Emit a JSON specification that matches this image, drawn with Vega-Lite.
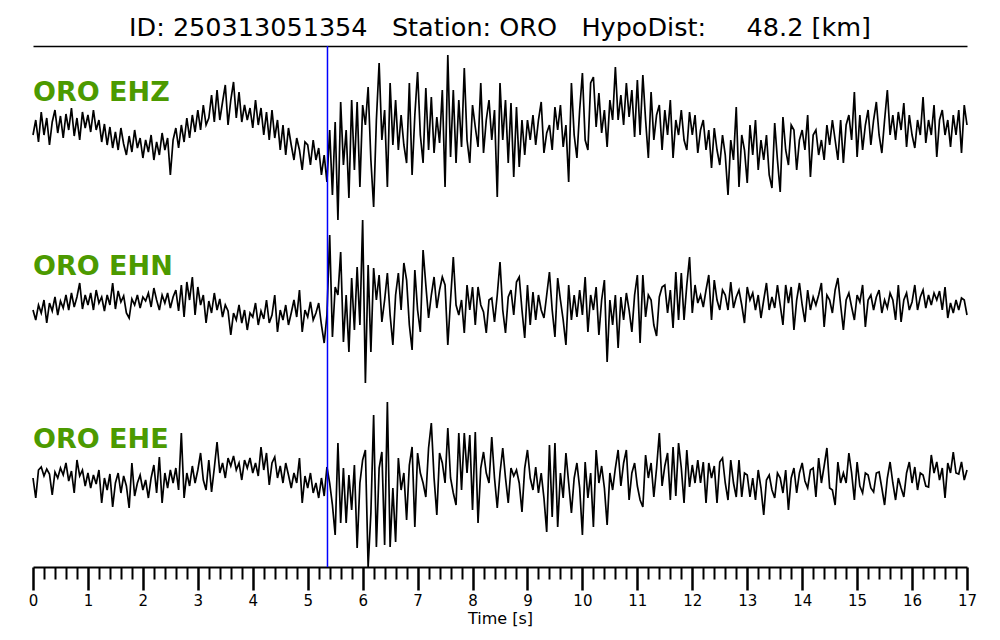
{
"$schema": "https://vega.github.io/schema/vega-lite/v6.json",
"width": 934, "height": 521,
"autosize": {"type": "none"},
"padding": {"left": 33, "top": 46, "right": 33, "bottom": 73},
"background": "white",
"config": {"view": {"stroke": null}, "axis": {"grid": false}, "font": "DejaVu Sans"},
"title": {"text": "ID: 250313051354\u00a0\u00a0\u00a0Station: ORO\u00a0\u00a0\u00a0HypoDist:\u00a0\u00a0\u00a0\u00a0\u00a048.2 [km]", "fontSize": 25.5, "font": "DejaVu Sans", "fontWeight": "normal", "color": "black", "anchor": "middle", "offset": 4},
"datasets": {"w": [
{"t":0,"z":-5,"n":-5,"e":0},{"t":0.05,"z":10,"n":-15,"e":-20},{"t":0.1,"z":-12,"n":0,"e":8},{"t":0.15,"z":18,"n":-8,"e":11},{"t":0.2,"z":-5,"n":5,"e":2},{"t":0.25,"z":12,"n":-18,"e":9},{"t":0.3,"z":-15,"n":2,"e":4},{"t":0.35,"z":8,"n":-6,"e":-17},{"t":0.4,"z":20,"n":8,"e":6},{"t":0.45,"z":-3,"n":-10,"e":0},{"t":0.5,"z":14,"n":4,"e":10},{"t":0.55,"z":-8,"n":-3,"e":3},{"t":0.6,"z":16,"n":10,"e":15},{"t":0.65,"z":0,"n":-5,"e":-3},{"t":0.7,"z":22,"n":12,"e":7},{"t":0.75,"z":-6,"n":-2,"e":-15},{"t":0.8,"z":12,"n":8,"e":18},{"t":0.85,"z":-10,"n":22,"e":2},{"t":0.9,"z":18,"n":-4,"e":8},{"t":0.95,"z":2,"n":10,"e":-8},
{"t":1,"z":15,"n":0,"e":5},{"t":1.05,"z":-2,"n":12,"e":-10},{"t":1.1,"z":20,"n":-5,"e":3},{"t":1.15,"z":0,"n":15,"e":-6},{"t":1.2,"z":10,"n":2,"e":8},{"t":1.25,"z":-12,"n":8,"e":-25},{"t":1.3,"z":6,"n":-6,"e":0},{"t":1.35,"z":-15,"n":10,"e":-12},{"t":1.4,"z":3,"n":0,"e":4},{"t":1.45,"z":-18,"n":22,"e":-29},{"t":1.5,"z":-2,"n":-4,"e":-5},{"t":1.55,"z":-20,"n":14,"e":5},{"t":1.6,"z":2,"n":3,"e":-15},{"t":1.65,"z":-14,"n":9,"e":2},{"t":1.7,"z":-25,"n":-8,"e":-8},{"t":1.75,"z":-6,"n":-13,"e":-30},{"t":1.8,"z":-22,"n":6,"e":15},{"t":1.85,"z":0,"n":0,"e":-18},{"t":1.9,"z":-18,"n":10,"e":-5},{"t":1.95,"z":-8,"n":-3,"e":3},
{"t":2,"z":-28,"n":8,"e":-12},{"t":2.05,"z":-10,"n":4,"e":-2},{"t":2.1,"z":-22,"n":12,"e":-20},{"t":2.15,"z":-5,"n":-2,"e":0},{"t":2.2,"z":-30,"n":17,"e":13},{"t":2.25,"z":-12,"n":5,"e":-15},{"t":2.3,"z":-25,"n":-5,"e":21},{"t":2.35,"z":-3,"n":10,"e":-25},{"t":2.4,"z":-20,"n":2,"e":5},{"t":2.45,"z":-8,"n":12,"e":-10},{"t":2.5,"z":-45,"n":-3,"e":8},{"t":2.55,"z":-10,"n":8,"e":-5},{"t":2.6,"z":2,"n":15,"e":10},{"t":2.65,"z":-18,"n":-6,"e":-12},{"t":2.7,"z":5,"n":20,"e":45},{"t":2.75,"z":-12,"n":-12,"e":-20},{"t":2.8,"z":12,"n":23,"e":5},{"t":2.85,"z":-8,"n":5,"e":-8},{"t":2.9,"z":15,"n":28,"e":12},{"t":2.95,"z":-2,"n":-10,"e":-5},
{"t":3,"z":20,"n":18,"e":8},{"t":3.05,"z":0,"n":0,"e":25},{"t":3.1,"z":25,"n":10,"e":-2},{"t":3.15,"z":5,"n":-18,"e":-12},{"t":3.2,"z":12,"n":4,"e":18},{"t":3.25,"z":35,"n":-8,"e":-14},{"t":3.3,"z":8,"n":12,"e":10},{"t":3.35,"z":40,"n":-5,"e":36},{"t":3.4,"z":10,"n":6,"e":5},{"t":3.45,"z":28,"n":-12,"e":15},{"t":3.5,"z":45,"n":0,"e":0},{"t":3.55,"z":5,"n":-6,"e":20},{"t":3.6,"z":30,"n":-30,"e":12},{"t":3.65,"z":48,"n":-8,"e":22},{"t":3.7,"z":12,"n":-15,"e":8},{"t":3.75,"z":38,"n":0,"e":15},{"t":3.8,"z":8,"n":-18,"e":-2},{"t":3.85,"z":25,"n":-5,"e":18},{"t":3.9,"z":10,"n":-25,"e":10},{"t":3.95,"z":22,"n":-8,"e":20},
{"t":4,"z":2,"n":-12,"e":5},{"t":4.05,"z":30,"n":2,"e":15},{"t":4.1,"z":5,"n":-20,"e":2},{"t":4.15,"z":22,"n":-6,"e":31},{"t":4.2,"z":-5,"n":-14,"e":8},{"t":4.25,"z":18,"n":5,"e":25},{"t":4.3,"z":-10,"n":-18,"e":-7},{"t":4.35,"z":20,"n":-10,"e":15},{"t":4.4,"z":-8,"n":10,"e":21},{"t":4.45,"z":10,"n":-27,"e":0},{"t":4.5,"z":-20,"n":-5,"e":12},{"t":4.55,"z":5,"n":-15,"e":-5},{"t":4.6,"z":-25,"n":0,"e":15},{"t":4.65,"z":2,"n":-20,"e":3},{"t":4.7,"z":-15,"n":-8,"e":-10},{"t":4.75,"z":-30,"n":5,"e":5},{"t":4.8,"z":-8,"n":-12,"e":-5},{"t":4.85,"z":-20,"n":15,"e":20},{"t":4.9,"z":-40,"n":-27,"e":-25},{"t":4.95,"z":-12,"n":-5,"e":2},
{"t":5,"z":-15,"n":-12,"e":-10},{"t":5.05,"z":-35,"n":3,"e":5},{"t":5.1,"z":-10,"n":-15,"e":-15},{"t":5.15,"z":-30,"n":-8,"e":-5},{"t":5.2,"z":-18,"n":2,"e":-20},{"t":5.25,"z":-45,"n":-20,"e":0},{"t":5.3,"z":-25,"n":-38,"e":-18},{"t":5.35,"z":-52,"n":-10,"e":11},{"t":5.4,"z":0,"n":70,"e":-5},{"t":5.45,"z":-65,"n":-32,"e":-27},{"t":5.5,"z":8,"n":18,"e":-57},{"t":5.55,"z":-90,"n":10,"e":35},{"t":5.6,"z":28,"n":53,"e":-45},{"t":5.65,"z":-35,"n":-37,"e":10},{"t":5.7,"z":0,"n":10,"e":-45},{"t":5.75,"z":-68,"n":-47,"e":3},{"t":5.8,"z":30,"n":27,"e":-32},{"t":5.85,"z":-40,"n":-25,"e":13},{"t":5.9,"z":28,"n":38,"e":-70},{"t":5.95,"z":-57,"n":-20,"e":-5},
{"t":6,"z":25,"n":85,"e":18},{"t":6.05,"z":5,"n":-78,"e":28},{"t":6.1,"z":43,"n":40,"e":-89},{"t":6.15,"z":-30,"n":-47,"e":-35},{"t":6.2,"z":-77,"n":37,"e":63},{"t":6.25,"z":10,"n":5,"e":-69},{"t":6.3,"z":67,"n":30,"e":10},{"t":6.35,"z":-10,"n":-17,"e":26},{"t":6.4,"z":20,"n":5,"e":-67},{"t":6.45,"z":-57,"n":32,"e":76},{"t":6.5,"z":47,"n":-10,"e":-69},{"t":6.55,"z":-15,"n":-40,"e":-10},{"t":6.6,"z":30,"n":10,"e":-64},{"t":6.65,"z":-20,"n":32,"e":20},{"t":6.7,"z":15,"n":-5,"e":-12},{"t":6.75,"z":-15,"n":42,"e":5},{"t":6.8,"z":-33,"n":25,"e":-42},{"t":6.85,"z":47,"n":-20,"e":13},{"t":6.9,"z":-45,"n":-45,"e":31},{"t":6.95,"z":15,"n":35,"e":-49},
{"t":7,"z":58,"n":-5,"e":25},{"t":7.05,"z":-5,"n":-27,"e":5},{"t":7.1,"z":-33,"n":55,"e":-5},{"t":7.15,"z":42,"n":20,"e":-19},{"t":7.2,"z":-20,"n":-13,"e":30},{"t":7.25,"z":33,"n":10,"e":55},{"t":7.3,"z":-23,"n":28,"e":0},{"t":7.35,"z":13,"n":-3,"e":-37},{"t":7.4,"z":-13,"n":15,"e":25},{"t":7.45,"z":40,"n":28,"e":15},{"t":7.5,"z":-57,"n":20,"e":-5},{"t":7.55,"z":75,"n":-40,"e":50},{"t":7.6,"z":-27,"n":5,"e":0},{"t":7.65,"z":40,"n":48,"e":-15},{"t":7.7,"z":-33,"n":0,"e":-27},{"t":7.75,"z":30,"n":-10,"e":45},{"t":7.8,"z":-17,"n":5,"e":-12},{"t":7.85,"z":62,"n":-28,"e":45},{"t":7.9,"z":-10,"n":20,"e":5},{"t":7.95,"z":-33,"n":-5,"e":43},
{"t":8,"z":25,"n":18,"e":-32},{"t":8.05,"z":3,"n":-20,"e":46},{"t":8.1,"z":-17,"n":18,"e":-45},{"t":8.15,"z":47,"n":0,"e":10},{"t":8.2,"z":-23,"n":-7,"e":26},{"t":8.25,"z":10,"n":-28,"e":5},{"t":8.3,"z":30,"n":5,"e":-5},{"t":8.35,"z":-10,"n":7,"e":41},{"t":8.4,"z":20,"n":-17,"e":0},{"t":8.45,"z":-67,"n":10,"e":-30},{"t":8.5,"z":47,"n":43,"e":5},{"t":8.55,"z":-10,"n":-5,"e":30},{"t":8.6,"z":30,"n":-28,"e":0},{"t":8.65,"z":-33,"n":8,"e":-25},{"t":8.7,"z":27,"n":15,"e":10},{"t":8.75,"z":-47,"n":-10,"e":2},{"t":8.8,"z":23,"n":23,"e":8},{"t":8.85,"z":-37,"n":28,"e":-5},{"t":8.9,"z":10,"n":-5,"e":-34},{"t":8.95,"z":-25,"n":-33,"e":10},
{"t":9,"z":10,"n":20,"e":28},{"t":9.05,"z":-10,"n":-20,"e":0},{"t":9.1,"z":15,"n":13,"e":-12},{"t":9.15,"z":-15,"n":-15,"e":11},{"t":9.2,"z":10,"n":10,"e":-15},{"t":9.25,"z":28,"n":-5,"e":5},{"t":9.3,"z":-23,"n":-13,"e":-20},{"t":9.35,"z":-3,"n":10,"e":-54},{"t":9.4,"z":5,"n":33,"e":33},{"t":9.45,"z":-20,"n":-5,"e":-39},{"t":9.5,"z":23,"n":-32,"e":35},{"t":9.55,"z":0,"n":27,"e":-49},{"t":9.6,"z":25,"n":5,"e":5},{"t":9.65,"z":-17,"n":-15,"e":-20},{"t":9.7,"z":5,"n":-40,"e":25},{"t":9.75,"z":-52,"n":20,"e":-5},{"t":9.8,"z":47,"n":-15,"e":-35},{"t":9.85,"z":-5,"n":10,"e":0},{"t":9.9,"z":-28,"n":-12,"e":15},{"t":9.95,"z":20,"n":15,"e":-10},
{"t":10,"z":57,"n":-10,"e":-57},{"t":10.05,"z":-10,"n":28,"e":16},{"t":10.1,"z":-20,"n":-27,"e":-20},{"t":10.15,"z":47,"n":10,"e":5},{"t":10.2,"z":53,"n":-5,"e":-49},{"t":10.25,"z":3,"n":18,"e":28},{"t":10.3,"z":37,"n":-30,"e":-5},{"t":10.35,"z":-3,"n":5,"e":12},{"t":10.4,"z":20,"n":25,"e":-10},{"t":10.45,"z":-17,"n":-57,"e":-47},{"t":10.5,"z":30,"n":5,"e":5},{"t":10.55,"z":10,"n":-20,"e":-12},{"t":10.6,"z":63,"n":10,"e":10},{"t":10.65,"z":10,"n":-43,"e":28},{"t":10.7,"z":35,"n":8,"e":-8},{"t":10.75,"z":5,"n":-15,"e":15},{"t":10.8,"z":47,"n":12,"e":28},{"t":10.85,"z":13,"n":-5,"e":-22},{"t":10.9,"z":40,"n":-27,"e":5},{"t":10.95,"z":-7,"n":10,"e":15},
{"t":11,"z":50,"n":30,"e":-8},{"t":11.05,"z":-5,"n":-38,"e":-22},{"t":11.1,"z":55,"n":30,"e":-29},{"t":11.15,"z":10,"n":-12,"e":23},{"t":11.2,"z":-28,"n":10,"e":0},{"t":11.25,"z":38,"n":5,"e":15},{"t":11.3,"z":-10,"n":-20,"e":-19},{"t":11.35,"z":15,"n":-31,"e":10},{"t":11.4,"z":25,"n":8,"e":45},{"t":11.45,"z":-20,"n":18,"e":-8},{"t":11.5,"z":20,"n":20,"e":12},{"t":11.55,"z":-5,"n":-8,"e":25},{"t":11.6,"z":30,"n":15,"e":-22},{"t":11.65,"z":-28,"n":-23,"e":31},{"t":11.7,"z":10,"n":33,"e":-18},{"t":11.75,"z":-5,"n":-15,"e":35},{"t":11.8,"z":20,"n":32,"e":10},{"t":11.85,"z":-10,"n":-15,"e":-25},{"t":11.9,"z":-20,"n":20,"e":28},{"t":11.95,"z":18,"n":48,"e":-9},
{"t":12,"z":-5,"n":-8,"e":13},{"t":12.05,"z":15,"n":20,"e":-5},{"t":12.1,"z":-23,"n":2,"e":18},{"t":12.15,"z":0,"n":10,"e":-5},{"t":12.2,"z":10,"n":-2,"e":16},{"t":12.25,"z":-20,"n":15,"e":-25},{"t":12.3,"z":0,"n":30,"e":15},{"t":12.35,"z":-38,"n":-15,"e":0},{"t":12.4,"z":2,"n":25,"e":12},{"t":12.45,"z":-20,"n":5,"e":-25},{"t":12.5,"z":-35,"n":-5,"e":16},{"t":12.55,"z":-5,"n":15,"e":20},{"t":12.6,"z":-25,"n":10,"e":-5},{"t":12.65,"z":-65,"n":-5,"e":-22},{"t":12.7,"z":-10,"n":23,"e":18},{"t":12.75,"z":-30,"n":-3,"e":-5},{"t":12.8,"z":23,"n":8,"e":-19},{"t":12.85,"z":-57,"n":15,"e":18},{"t":12.9,"z":-5,"n":0,"e":-19},{"t":12.95,"z":-20,"n":-18,"e":5},
{"t":13,"z":-53,"n":18,"e":3},{"t":13.05,"z":5,"n":5,"e":-19},{"t":13.1,"z":-25,"n":12,"e":0},{"t":13.15,"z":10,"n":-5,"e":-22},{"t":13.2,"z":-40,"n":10,"e":8},{"t":13.25,"z":-10,"n":-13,"e":-10},{"t":13.3,"z":-30,"n":5,"e":-37},{"t":13.35,"z":-5,"n":22,"e":-2},{"t":13.4,"z":-45,"n":-5,"e":3},{"t":13.45,"z":-58,"n":8,"e":-12},{"t":13.5,"z":7,"n":-3,"e":-20},{"t":13.55,"z":-30,"n":20,"e":5},{"t":13.6,"z":-62,"n":0,"e":0},{"t":13.65,"z":13,"n":-20,"e":-15},{"t":13.7,"z":-20,"n":20,"e":8},{"t":13.75,"z":-35,"n":2,"e":-32},{"t":13.8,"z":5,"n":18,"e":0},{"t":13.85,"z":0,"n":-25,"e":10},{"t":13.9,"z":-40,"n":5,"e":-15},{"t":13.95,"z":-10,"n":22,"e":5},
{"t":14,"z":0,"n":0,"e":15},{"t":14.05,"z":-20,"n":-17,"e":-3},{"t":14.1,"z":15,"n":15,"e":-10},{"t":14.15,"z":-47,"n":-5,"e":8},{"t":14.2,"z":-5,"n":8,"e":10},{"t":14.25,"z":0,"n":0,"e":-19},{"t":14.3,"z":-25,"n":10,"e":20},{"t":14.35,"z":-10,"n":22,"e":-5},{"t":14.4,"z":-30,"n":-22,"e":12},{"t":14.45,"z":5,"n":10,"e":30},{"t":14.5,"z":-15,"n":5,"e":-10},{"t":14.55,"z":10,"n":-8,"e":-12},{"t":14.6,"z":-10,"n":15,"e":-27},{"t":14.65,"z":-30,"n":27,"e":16},{"t":14.7,"z":10,"n":0,"e":-5},{"t":14.75,"z":-33,"n":-25,"e":5},{"t":14.8,"z":5,"n":5,"e":-5},{"t":14.85,"z":15,"n":12,"e":25},{"t":14.9,"z":-10,"n":-2,"e":5},{"t":14.95,"z":38,"n":-15,"e":-22},
{"t":15,"z":-27,"n":10,"e":16},{"t":15.05,"z":15,"n":3,"e":-8},{"t":15.1,"z":-20,"n":20,"e":-15},{"t":15.15,"z":5,"n":-22,"e":5},{"t":15.2,"z":20,"n":5,"e":3},{"t":15.25,"z":-15,"n":10,"e":-10},{"t":15.3,"z":10,"n":-5,"e":-14},{"t":15.35,"z":28,"n":8,"e":5},{"t":15.4,"z":-5,"n":15,"e":6},{"t":15.45,"z":-23,"n":-8,"e":-10},{"t":15.5,"z":10,"n":5,"e":-27},{"t":15.55,"z":40,"n":-3,"e":0},{"t":15.6,"z":-5,"n":12,"e":16},{"t":15.65,"z":15,"n":5,"e":-5},{"t":15.7,"z":-10,"n":-15,"e":-22},{"t":15.75,"z":18,"n":20,"e":0},{"t":15.8,"z":0,"n":-17,"e":-10},{"t":15.85,"z":27,"n":5,"e":-19},{"t":15.9,"z":-17,"n":12,"e":5},{"t":15.95,"z":15,"n":-5,"e":16},
{"t":16,"z":-5,"n":3,"e":-5},{"t":16.05,"z":-18,"n":20,"e":11},{"t":16.1,"z":10,"n":-5,"e":-12},{"t":16.15,"z":-5,"n":8,"e":5},{"t":16.2,"z":33,"n":15,"e":3},{"t":16.25,"z":-13,"n":-3,"e":-8},{"t":16.3,"z":10,"n":10,"e":-9},{"t":16.35,"z":-5,"n":0,"e":23},{"t":16.4,"z":25,"n":12,"e":5},{"t":16.45,"z":-27,"n":5,"e":16},{"t":16.5,"z":10,"n":14,"e":-2},{"t":16.55,"z":20,"n":-5,"e":10},{"t":16.6,"z":-5,"n":18,"e":-20},{"t":16.65,"z":10,"n":-13,"e":15},{"t":16.7,"z":-17,"n":2,"e":5},{"t":16.75,"z":15,"n":-8,"e":26},{"t":16.8,"z":-5,"n":5,"e":5},{"t":16.85,"z":20,"n":-5,"e":4},{"t":16.9,"z":-23,"n":7,"e":16},{"t":16.95,"z":25,"n":5,"e":-2},
{"t":17,"z":5,"n":-10,"e":8}
]},
"data": {"name": "w"},
"layer": [
  {"mark": {"type": "line", "color": "black", "strokeWidth": 1.7},
   "encoding": {
    "x": {"field": "t", "type": "quantitative", "scale": {"domain": [0, 17], "nice": false, "zero": false},
      "axis": {"orient": "bottom", "values": [0,1,2,3,4,5,6,7,8,9,10,11,12,13,14,15,16,17], "format": "d", "tickSize": 23, "tickWidth": 2.5, "tickColor": "black", "domain": true, "domainColor": "black", "domainWidth": 2, "labelFontSize": 15, "labelFont": "DejaVu Sans", "labelColor": "black", "labelPadding": 3, "labelFlush": false, "labelOverlap": false, "title": "Time [s]", "titleFontSize": 16, "titleFont": "DejaVu Sans", "titleFontWeight": "normal", "titleColor": "black", "titlePadding": 2}},
    "y": {"field": "z", "type": "quantitative", "scale": {"domain": [-437, 84], "nice": false, "zero": false}, "axis": null}}},
  {"mark": {"type": "line", "color": "black", "strokeWidth": 1.7},
   "encoding": {
    "x": {"field": "t", "type": "quantitative",
      "axis": {"orient": "bottom", "values": [0.2,0.4,0.6,0.8,1.2,1.4,1.6,1.8,2.2,2.4,2.6,2.8,3.2,3.4,3.6,3.8,4.2,4.4,4.6,4.8,5.2,5.4,5.6,5.8,6.2,6.4,6.6,6.8,7.2,7.4,7.6,7.8,8.2,8.4,8.6,8.8,9.2,9.4,9.6,9.8,10.2,10.4,10.6,10.8,11.2,11.4,11.6,11.8,12.2,12.4,12.6,12.8,13.2,13.4,13.6,13.8,14.2,14.4,14.6,14.8,15.2,15.4,15.6,15.8,16.2,16.4,16.6,16.8], "tickSize": 12, "tickWidth": 2, "tickColor": "black", "labels": false, "domain": false, "title": null}},
    "y": {"field": "n", "type": "quantitative", "scale": {"domain": [-262, 259], "nice": false, "zero": false}, "axis": null}}},
  {"mark": {"type": "line", "color": "black", "strokeWidth": 1.7},
   "encoding": {
    "x": {"field": "t", "type": "quantitative",
      "axis": {"orient": "top", "ticks": false, "labels": false, "domain": true, "domainColor": "black", "domainWidth": 1.5, "title": null}},
    "y": {"field": "e", "type": "quantitative", "scale": {"domain": [-89, 432], "nice": false, "zero": false}, "axis": null}}},
  {"data": {"values": [{"label": "ORO EHZ"}]},
   "mark": {"type": "text", "align": "left", "baseline": "alphabetic", "fontSize": 27, "fontWeight": "bold", "color": "#4c9a00", "font": "DejaVu Sans"},
   "encoding": {"x": {"datum": 0, "type": "quantitative", "axis": null}, "y": {"datum": 29, "type": "quantitative", "scale": {"domain": [-437, 84], "nice": false, "zero": false}, "axis": null}, "text": {"field": "label"}}},
  {"data": {"values": [{"label": "ORO EHN"}]},
   "mark": {"type": "text", "align": "left", "baseline": "alphabetic", "fontSize": 27, "fontWeight": "bold", "color": "#4c9a00", "font": "DejaVu Sans"},
   "encoding": {"x": {"datum": 0, "type": "quantitative", "axis": null}, "y": {"datum": 30, "type": "quantitative", "scale": {"domain": [-262, 259], "nice": false, "zero": false}, "axis": null}, "text": {"field": "label"}}},
  {"data": {"values": [{"label": "ORO EHE"}]},
   "mark": {"type": "text", "align": "left", "baseline": "alphabetic", "fontSize": 27, "fontWeight": "bold", "color": "#4c9a00", "font": "DejaVu Sans"},
   "encoding": {"x": {"datum": 0, "type": "quantitative", "axis": null}, "y": {"datum": 30, "type": "quantitative", "scale": {"domain": [-89, 432], "nice": false, "zero": false}, "axis": null}, "text": {"field": "label"}}},
  {"data": {"values": [{"pick": "P"}]},
   "mark": {"type": "rule", "color": "#0000ff", "strokeWidth": 1.5},
   "encoding": {"x": {"datum": 5.36, "type": "quantitative", "axis": null}}}
],
"resolve": {"scale": {"y": "independent"}, "axis": {"x": "independent", "y": "independent"}}
}
